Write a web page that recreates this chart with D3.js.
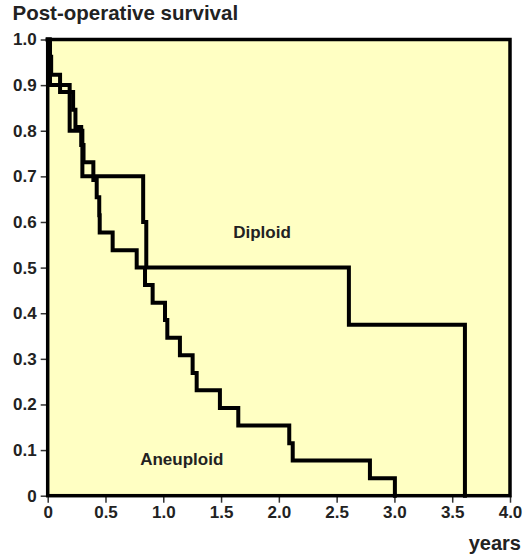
<!DOCTYPE html>
<html>
<head>
<meta charset="utf-8">
<script src="https://cdn.jsdelivr.net/npm/d3@7.9.0/dist/d3.min.js"></script>
<style>
  body { margin: 0; background: #fff; }
  text { font-family: "Liberation Sans", Arial, Helvetica, sans-serif; }
</style>
</head>
<body>
<svg id="km"></svg>
<script>
// survival steps: value holds from the time until the next time
const diploidTimes = [0, 0.02, 0.19, 0.30, 0.826, 0.853, 2.606, 3.61];
const diploidSurv  = [1.0, 0.9, 0.8, 0.7, 0.6, 0.5, 0.375, 0];

const aneuploidTimes = [0, 0.015, 0.03, 0.107, 0.22, 0.24, 0.29, 0.31, 0.395, 0.424, 0.446, 0.45, 0.562,
                        0.77, 0.842, 0.908, 1.015, 1.035, 1.144, 1.254, 1.289, 1.49, 1.649, 2.09, 2.12, 2.788, 3.004];
const aneuploidSurv  = [1.0, 0.962, 0.923, 0.885, 0.846, 0.808, 0.769, 0.731, 0.692, 0.654, 0.615, 0.577, 0.538,
                        0.5, 0.462, 0.423, 0.385, 0.346, 0.308, 0.269, 0.231, 0.192, 0.154, 0.115, 0.077, 0.038, 0];

const xTicks = [0, 0.5, 1.0, 1.5, 2.0, 2.5, 3.0, 3.5, 4.0];
const yTicks = [0, 0.1, 0.2, 0.3, 0.4, 0.5, 0.6, 0.7, 0.8, 0.9, 1.0];

const groupLabels = [
  { name: "Diploid", t: 1.854, s: 0.565 },
  { name: "Aneuploid", t: 1.16, s: 0.067 }
];

const W = 532, H = 556, margin = { top: 39.5, right: 22, bottom: 60.3, left: 47.7 };
const width = W - margin.left - margin.right, height = H - margin.top - margin.bottom;

const root = d3.select("#km").attr("width", W).attr("height", H);
const svg = root.append("g").attr("transform", `translate(${margin.left},${margin.top})`);

const x = d3.scaleLinear().domain([0, 4]).range([0, width]);
const y = d3.scaleLinear().domain([0, 1]).range([height, 0]);
const fmt = d => d === 0 ? "0" : d3.format(".1f")(d);

svg.append("rect")
  .attr("width", width).attr("height", height)
  .attr("fill", "#ffffc3");

// axes
const xAxis = svg.append("g").attr("transform", `translate(0,${height})`)
  .call(d3.axisBottom(x).tickValues(xTicks).tickFormat(fmt).tickSize(7).tickPadding(3));
const yAxis = svg.append("g")
  .call(d3.axisLeft(y).tickValues(yTicks).tickFormat(fmt).tickSize(7).tickPadding(4));

[xAxis, yAxis].forEach(a => {
  a.select(".domain").remove();
  a.selectAll(".tick line").attr("stroke", "#333").attr("stroke-width", 1.5);
  a.selectAll(".tick text")
    .attr("fill", "#222")
    .style("font-size", "17px")
    .style("font-weight", "bold")
    .style("font-family", "'Liberation Sans', Arial, sans-serif");
});

// curves
const line = d3.line().x(d => x(d[0])).y(d => y(d[1])).curve(d3.curveStepAfter);
const curves = [
  d3.zip(diploidTimes, diploidSurv),
  d3.zip(aneuploidTimes, aneuploidSurv)
];
svg.selectAll(".curve")
  .data(curves)
  .enter()
  .append("path")
  .attr("class", "curve")
  .attr("fill", "none")
  .attr("stroke", "#000")
  .attr("stroke-width", 4)
  .attr("stroke-linejoin", "miter")
  .attr("stroke-linecap", "square")
  .attr("d", d => line(d));

// frame
svg.append("rect")
  .attr("width", width).attr("height", height)
  .attr("fill", "none")
  .attr("stroke", "#000")
  .attr("stroke-width", 3.5);

// group labels
svg.selectAll(".glabel")
  .data(groupLabels)
  .enter()
  .append("text")
  .attr("class", "glabel")
  .attr("x", d => x(d.t))
  .attr("y", d => y(d.s))
  .attr("text-anchor", "middle")
  .attr("fill", "#222")
  .style("font-size", "17px")
  .style("font-weight", "bold")
  .text(d => d.name);

// titles
root.append("text")
  .attr("x", 12.5).attr("y", 20)
  .attr("fill", "#222")
  .style("font-size", "20.5px")
  .style("font-weight", "bold")
  .text("Post-operative survival");

root.append("text")
  .attr("x", 521).attr("y", 550)
  .attr("text-anchor", "end")
  .attr("fill", "#222")
  .style("font-size", "20px")
  .style("font-weight", "bold")
  .text("years");
</script>
</body>
</html>
